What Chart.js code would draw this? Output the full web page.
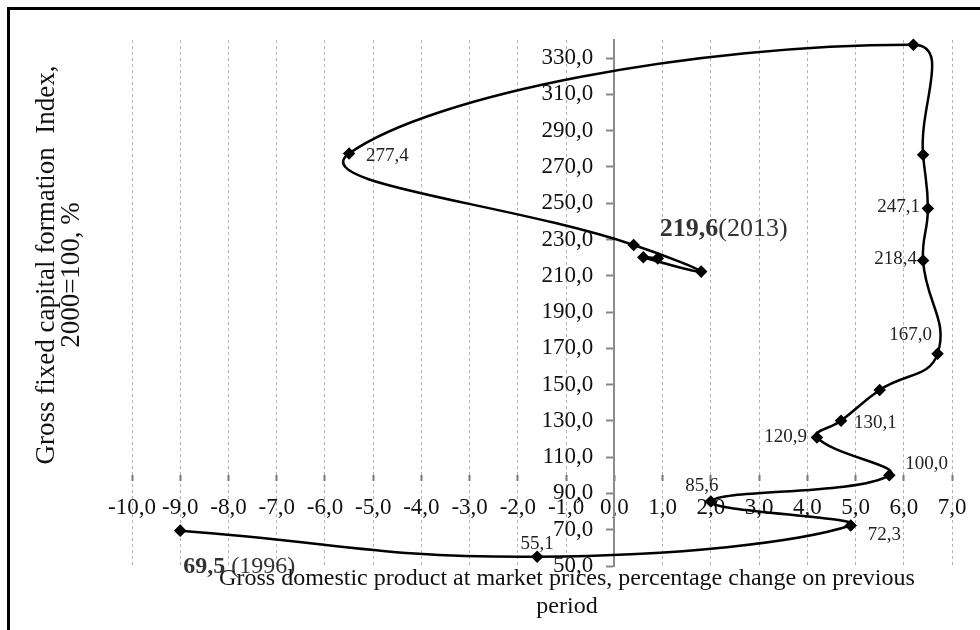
<!DOCTYPE html>
<html>
<head>
<meta charset="utf-8">
<script src="https://cdn.jsdelivr.net/npm/chart.js@4.4.1/dist/chart.umd.min.js"></script>
<style>
  html, body { margin: 0; padding: 0; background: #fff; }
  #wrap { position: relative; width: 980px; height: 630px; overflow: hidden; }
  #frame { position: absolute; left: 7px; top: 7px; right: -20px; bottom: -20px;
           border-left: 3px solid #000; border-top: 3px solid #000; }
  canvas { position: absolute; left: 0; top: 0; }
</style>
</head>
<body>
<div id="wrap">
  <div id="frame"></div>
  <canvas id="chart" width="980" height="630"></canvas>
</div>
<script>
// Bulgaria: GDP growth vs gross fixed capital formation index (2000 = 100)
const years = [1996, 1997, 1998, 1999, 2000, 2001, 2002, 2003, 2004,
               2005, 2006, 2007, 2008, 2009, 2010, 2011, 2012, 2013];
const gdpGrowth = [-9.0, -1.6, 4.9, 2.0, 5.7, 4.2, 4.7, 5.5, 6.7,
                   6.4, 6.5, 6.4, 6.2, -5.5, 0.4, 1.8, 0.6, 0.9];
const gfcfIndex = [69.5, 55.1, 72.3, 85.6, 100.0, 120.9, 130.1, 147.0, 167.0,
                   218.4, 247.1, 276.7, 337.4, 277.4, 227.0, 212.3, 220.2, 219.6];
const xTickValues = [-10, -9, -8, -7, -6, -5, -4, -3, -2, -1, 0, 1, 2, 3, 4, 5, 6, 7];
const yTickValues = [50, 70, 90, 110, 130, 150, 170, 190, 210, 230, 250, 270, 290, 310, 330];

const xTitle = ['Gross domestic product at market prices, percentage change on previous', 'period'];
const yTitle = ['Gross fixed capital formation  Index,', '2000=100, %'];

// which points get a value label and where it sits relative to the marker
const labelSpots = [
  { year: 1996, align: 'left',   dx: 3,   dy: 36,  size: 24, withYear: true },
  { year: 1997, align: 'center', dx: 0,   dy: -13, size: 19 },
  { year: 1998, align: 'left',   dx: 17,  dy: 9,   size: 19 },
  { year: 1999, align: 'center', dx: -9,  dy: -15, size: 19 },
  { year: 2000, align: 'left',   dx: 16,  dy: -11, size: 19 },
  { year: 2001, align: 'right',  dx: -10, dy: 0,   size: 19 },
  { year: 2002, align: 'left',   dx: 13,  dy: 2,   size: 19 },
  { year: 2004, align: 'center', dx: -27, dy: -19, size: 19 },
  { year: 2005, align: 'right',  dx: -6,  dy: -2,  size: 19 },
  { year: 2006, align: 'right',  dx: -8,  dy: -1,  size: 19 },
  { year: 2009, align: 'left',   dx: 17,  dy: 2,   size: 19 },
  { year: 2013, align: 'left',   dx: 2,  dy: -29,  size: 26, withYear: true }
];

const SERIF = '"Liberation Serif", "Times New Roman", "DejaVu Serif", serif';
const fmt = v => Number(v).toFixed(1).replace('.', ',');

const extraText = {
  id: 'extraText',
  afterDatasetsDraw(chart) {
    const ctx = chart.ctx;
    const meta = chart.getDatasetMeta(0);
    ctx.save();
    ctx.textBaseline = 'middle';

    // y tick labels, left of the axis line at x = 0
    const ys = chart.scales.y;
    const axisX = chart.scales.x.getPixelForValue(0);
    ctx.font = '23px ' + SERIF;
    ctx.fillStyle = '#111';
    ctx.textAlign = 'right';
    ys.ticks.forEach(t => ctx.fillText(fmt(t.value), axisX - 21, ys.getPixelForValue(t.value)));

    labelSpots.forEach(s => {
      const i = years.indexOf(s.year);
      const pt = meta.data[i];
      const value = fmt(gfcfIndex[i]);
      const x = pt.x + s.dx, y = pt.y + s.dy;
      if (s.withYear) {
        ctx.font = 'bold ' + s.size + 'px ' + SERIF;
        const w1 = ctx.measureText(value).width;
        ctx.fillStyle = '#333';
        ctx.textAlign = 'left';
        ctx.fillText(value, x, y);
        ctx.font = s.size + 'px ' + SERIF;
        ctx.fillText((s.year === 1996 ? ' ' : '') + '(' + s.year + ')', x + w1, y);
      } else {
        ctx.font = s.size + 'px ' + SERIF;
        ctx.fillStyle = '#222';
        ctx.textAlign = s.align;
        ctx.fillText(value, x, y);
      }
    });

    // axis titles
    ctx.fillStyle = '#111';
    ctx.textAlign = 'center';
    ctx.font = '24px ' + SERIF;
    ctx.fillText(xTitle[0], 567, 579);
    ctx.fillText(xTitle[1], 567, 607);
    ctx.font = '27px ' + SERIF;
    ctx.save();
    ctx.translate(47, 265);
    ctx.rotate(-Math.PI / 2);
    ctx.fillText(yTitle[0], 0, 0);
    ctx.restore();
    ctx.save();
    ctx.translate(72, 275);
    ctx.rotate(-Math.PI / 2);
    ctx.fillText(yTitle[1], 0, 0);
    ctx.restore();
    ctx.restore();
  }
};

new Chart(document.getElementById('chart'), {
  type: 'scatter',
  data: {
    datasets: [{
      data: years.map((_, i) => ({ x: gdpGrowth[i], y: gfcfIndex[i] })),
      showLine: true,
      tension: 0.45,
      borderColor: '#000',
      borderWidth: 2.5,
      pointStyle: 'rectRot',
      pointRadius: 4.5,
      pointBackgroundColor: '#000',
      pointBorderColor: '#000',
      clip: false
    }]
  },
  options: {
    responsive: false,
    animation: false,
    devicePixelRatio: 1,
    layout: { padding: { left: 132, right: 28, top: 40, bottom: 64 } },
    plugins: { legend: { display: false }, tooltip: { enabled: false } },
    scales: {
      x: {
        type: 'linear',
        position: { y: 100 },
        min: -10,
        max: 7,
        afterBuildTicks: s => { s.ticks = xTickValues.map(v => ({ value: v })); },
        grid: { color: '#b4b4b4', lineWidth: 1, tickLength: 6, tickColor: '#777', tickWidth: 2, tickBorderDash: [] },
        border: { display: false, dash: [3, 3] },
        ticks: { padding: 13, color: '#111', autoSkip: false, minRotation: 0, maxRotation: 0,
                 font: { family: SERIF, size: 23 }, callback: v => fmt(v) }
      },
      y: {
        type: 'linear',
        position: { x: 0 },
        min: 50,
        max: 340,
        afterBuildTicks: s => { s.ticks = yTickValues.map(v => ({ value: v })); },
        grid: { drawOnChartArea: false, tickLength: 7, tickColor: '#888', tickWidth: 2 },
        border: { display: true, color: '#8c8c8c', width: 2 },
        ticks: { display: false, font: { family: SERIF, size: 23 } }
      }
    }
  },
  plugins: [extraText]
});
</script>
</body>
</html>
